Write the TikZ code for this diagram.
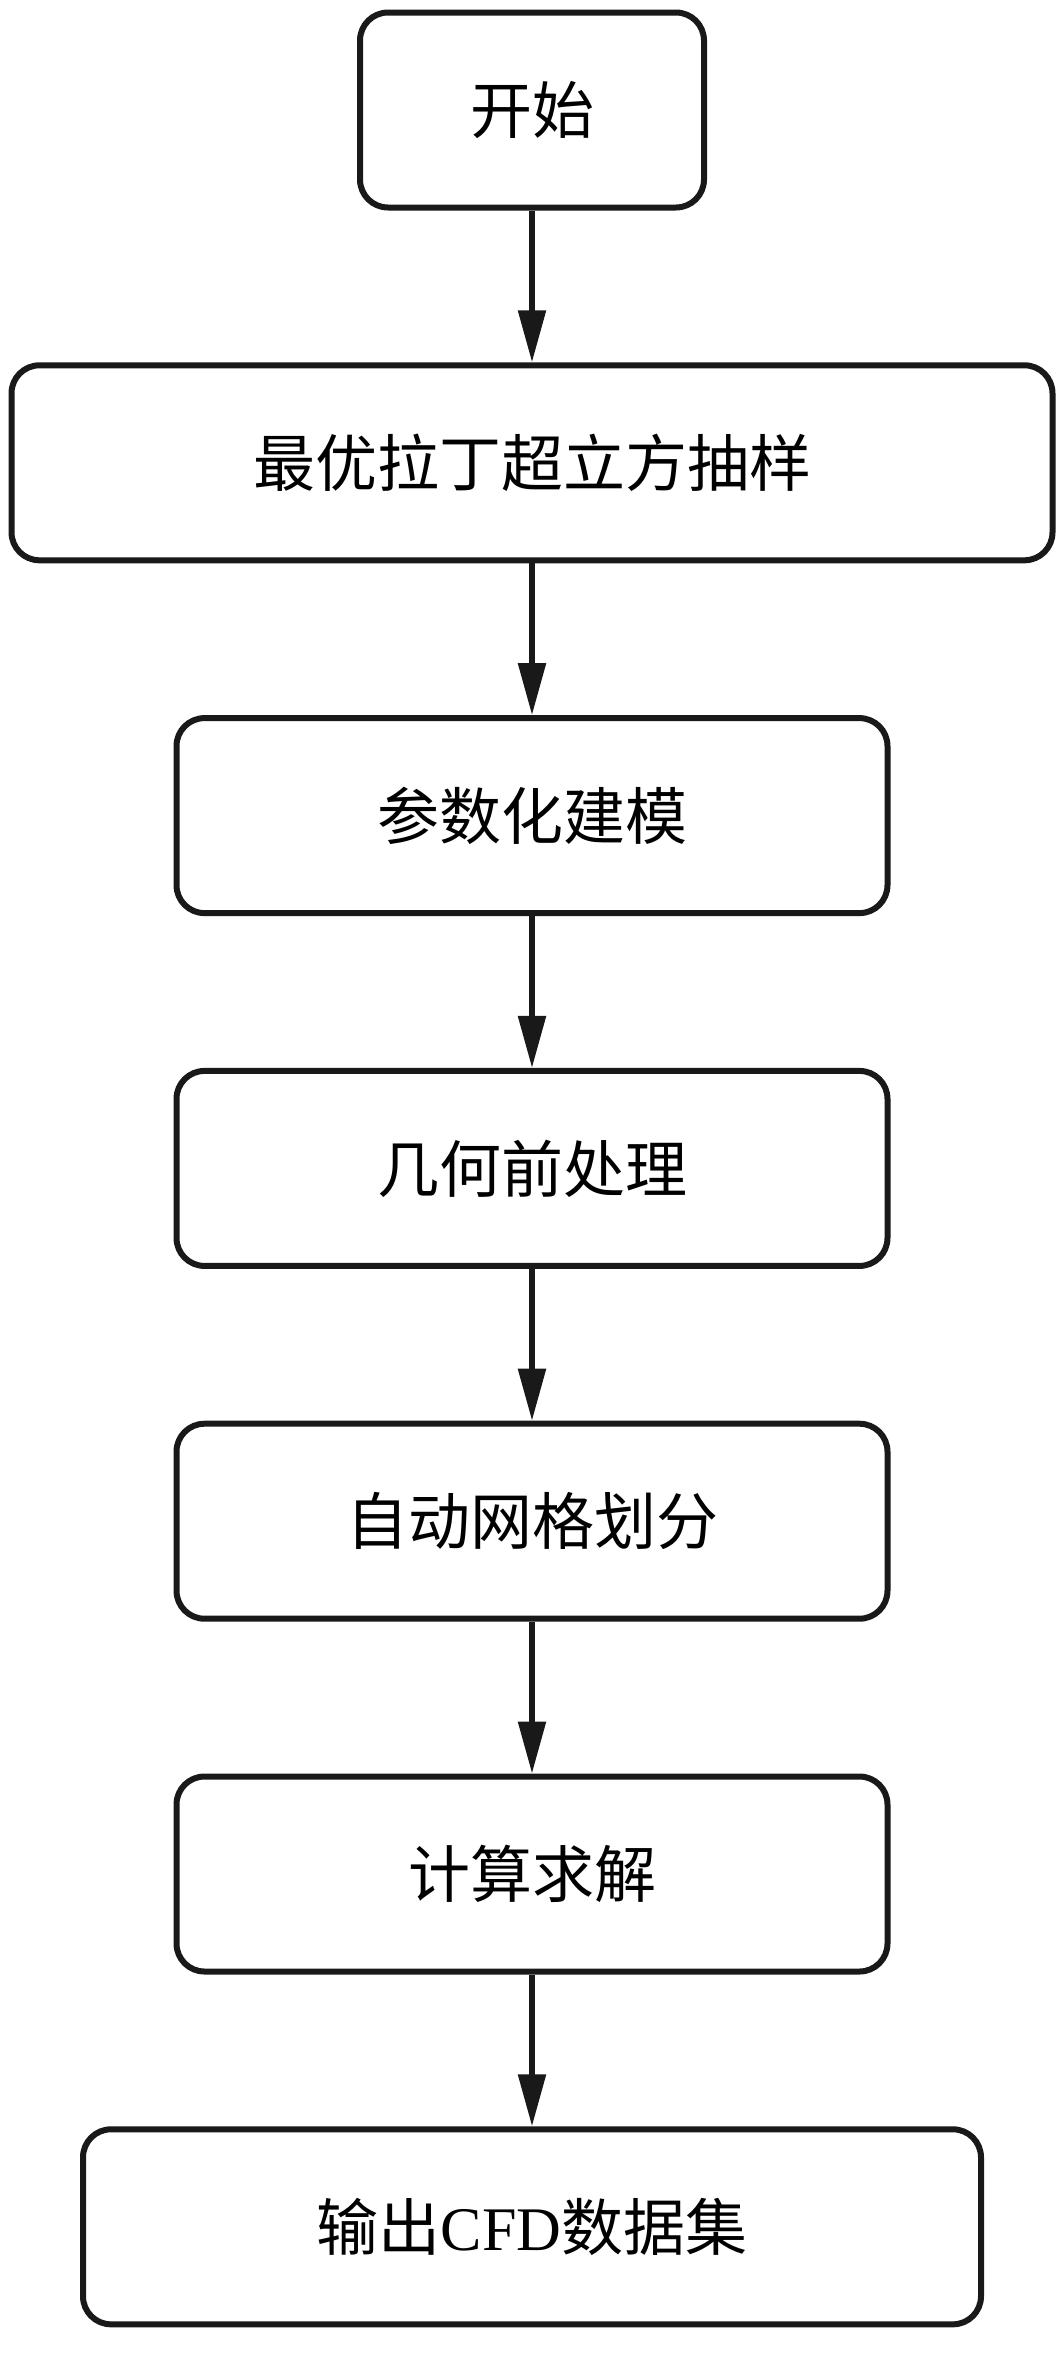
\documentclass[tikz,border=0pt]{standalone}
\usepackage{fontspec}
\newfontfamily\cjk{Noto Sans CJK SC}
\newfontfamily\latinserif{Liberation Serif}
\usetikzlibrary{arrows.meta}
\begin{document}
\begin{tikzpicture}[x=1pt,y=-1pt,
  stepbox/.style={draw=black!90, line width=6pt, rounded corners=28pt,
    minimum height=195pt, inner sep=0pt, align=center,
    font=\cjk\fontsize{62}{66}\selectfont},
  flow/.style={line width=5.5pt, draw=black!90,
    -{Triangle[length=52pt,width=27pt]}}]
\useasboundingbox (0,0) rectangle (1063,2354);
\node[stepbox, minimum width=344pt] (n1) at (532,110) {开始};
\node[stepbox, minimum width=1041pt] (n2) at (532,462.8) {最优拉丁超立方抽样};
\node[stepbox, minimum width=711pt] (n3) at (532,815.6) {参数化建模};
\node[stepbox, minimum width=711pt] (n4) at (532,1168.4) {几何前处理};
\node[stepbox, minimum width=711pt] (n5) at (532,1521.2) {自动网格划分};
\node[stepbox, minimum width=711pt] (n6) at (532,1874) {计算求解};
\node[stepbox, minimum width=898pt] (n7) at (532,2226.8) {输出{\latinserif CFD}数据集};
\draw[flow] (n1) -- (n2);
\draw[flow] (n2) -- (n3);
\draw[flow] (n3) -- (n4);
\draw[flow] (n4) -- (n5);
\draw[flow] (n5) -- (n6);
\draw[flow] (n6) -- (n7);
\end{tikzpicture}
\end{document}
